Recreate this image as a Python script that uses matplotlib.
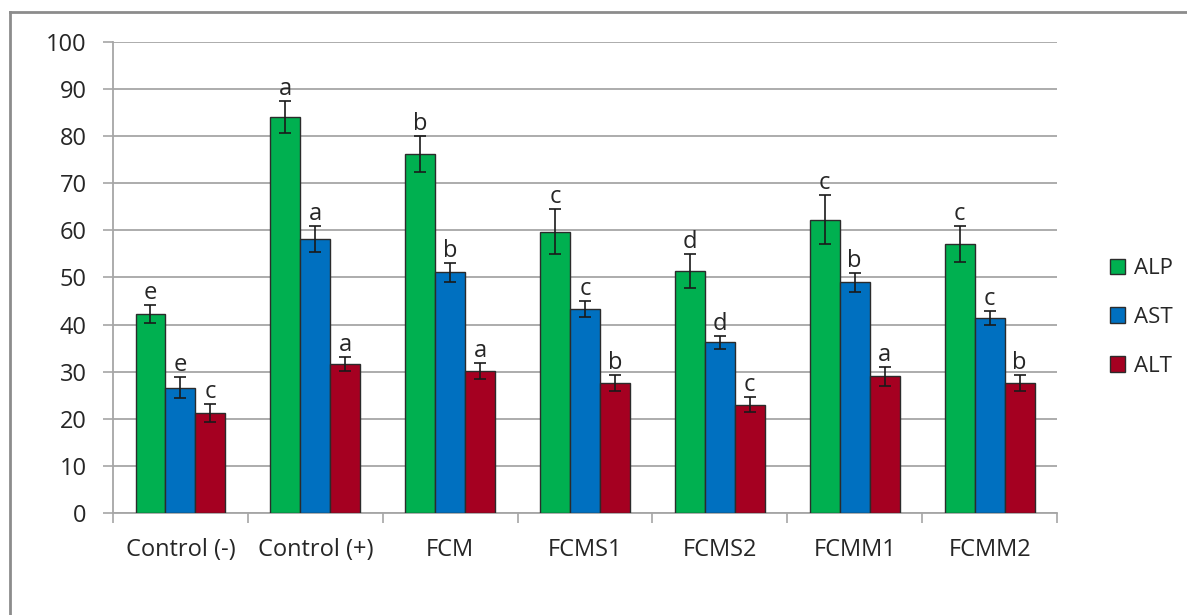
import matplotlib.pyplot as plt
import numpy as np
from matplotlib.lines import Line2D

categories = ["Control (-)", "Control (+)", "FCM", "FCMS1", "FCMS2", "FCMM1", "FCMM2"]
series = ["ALP", "AST", "ALT"]

alp = [42.2, 84.1, 76.2, 59.7, 51.4, 62.3, 57.1]
ast = [26.6, 58.2, 51.1, 43.3, 36.2, 49.0, 41.4]
alt = [21.3, 31.7, 30.1, 27.6, 23.0, 29.0, 27.6]

alp_err = [1.9, 3.4, 3.8, 4.8, 3.6, 5.2, 3.8]
ast_err = [2.2, 2.7, 2.0, 1.7, 1.4, 2.0, 1.4]
alt_err = [1.9, 1.5, 1.7, 1.8, 1.6, 2.0, 1.6]

alp_letters = ["e", "a", "b", "c", "d", "c", "c"]
ast_letters = ["e", "a", "b", "c", "d", "b", "c"]
alt_letters = ["c", "a", "a", "b", "c", "a", "b"]

colors = ["#00B050", "#0070C0", "#A50021"]

plt.rcParams['font.family'] = ['Open Sans', 'DejaVu Sans']
fs = 17
txt = "#262626"

fig = plt.figure(figsize=(11.87, 6.15), dpi=100)
ax = fig.add_axes([0.0952, 0.1659, 0.7953, 0.7658])

x = np.arange(len(categories))
w = 0.222
data = [(alp, alp_err, alp_letters), (ast, ast_err, ast_letters), (alt, alt_err, alt_letters)]

for k, (vals, errs, letters) in enumerate(data):
    pos = x + (k - 1) * w
    ax.bar(pos, vals, width=w, color=colors[k], edgecolor="#2b2b2b", linewidth=1.0,
           label=series[k], zorder=3)
    ax.errorbar(pos, vals, yerr=errs, fmt="none", ecolor="#1a1a1a", elinewidth=1.2,
                capsize=4.5, capthick=1.2, zorder=4)
    for p, v, e, t in zip(pos, vals, errs, letters):
        ax.annotate(t, (p, v + e), xytext=(0, 0), textcoords="offset points",
                    ha="center", va="bottom", fontsize=fs, color=txt)

ax.set_xlim(-0.5, len(categories) - 0.5)
ax.set_ylim(0, 100)
ax.set_yticks(np.arange(0, 101, 10))
ax.yaxis.grid(True, color="#a6a6a6", linewidth=1.3, zorder=0)
ax.set_axisbelow(True)

ax.set_xticks(np.arange(-0.5, len(categories), 1.0))
ax.set_xticklabels([])
ax.set_xticks(x, minor=True)
ax.set_xticklabels(categories, minor=True)
ax.tick_params(axis="x", which="major", length=7, width=1.2, color="#a6a6a6", direction="out")
ax.tick_params(axis="x", which="minor", length=0, pad=18, labelsize=fs, labelcolor=txt)
ax.tick_params(axis="y", length=7, width=1.2, color="#a6a6a6", labelsize=fs,
               labelcolor=txt, pad=12)

for s in ["top", "right"]:
    ax.spines[s].set_visible(False)
for s in ["left", "bottom"]:
    ax.spines[s].set_color("#a6a6a6")
    ax.spines[s].set_linewidth(1.3)

handles = [plt.Rectangle((0, 0), 1, 1, facecolor=c, edgecolor="#2b2b2b") for c in colors]
fig.legend(handles, series, loc="center left", bbox_to_anchor=(0.918, 0.484), frameon=False,
           fontsize=fs - 1, handlelength=0.7, handleheight=0.7, handletextpad=0.4,
           labelspacing=1.25, labelcolor=txt)

# outer frame (top and left edges visible in the reference)
fig.add_artist(Line2D([0.0085, 1.0], [0.98, 0.98], transform=fig.transFigure, color="#8c8c8c", linewidth=2))
fig.add_artist(Line2D([0.0085, 0.0085], [0.0, 0.98], transform=fig.transFigure, color="#8c8c8c", linewidth=2))

fig.savefig("out.png", dpi=100)
